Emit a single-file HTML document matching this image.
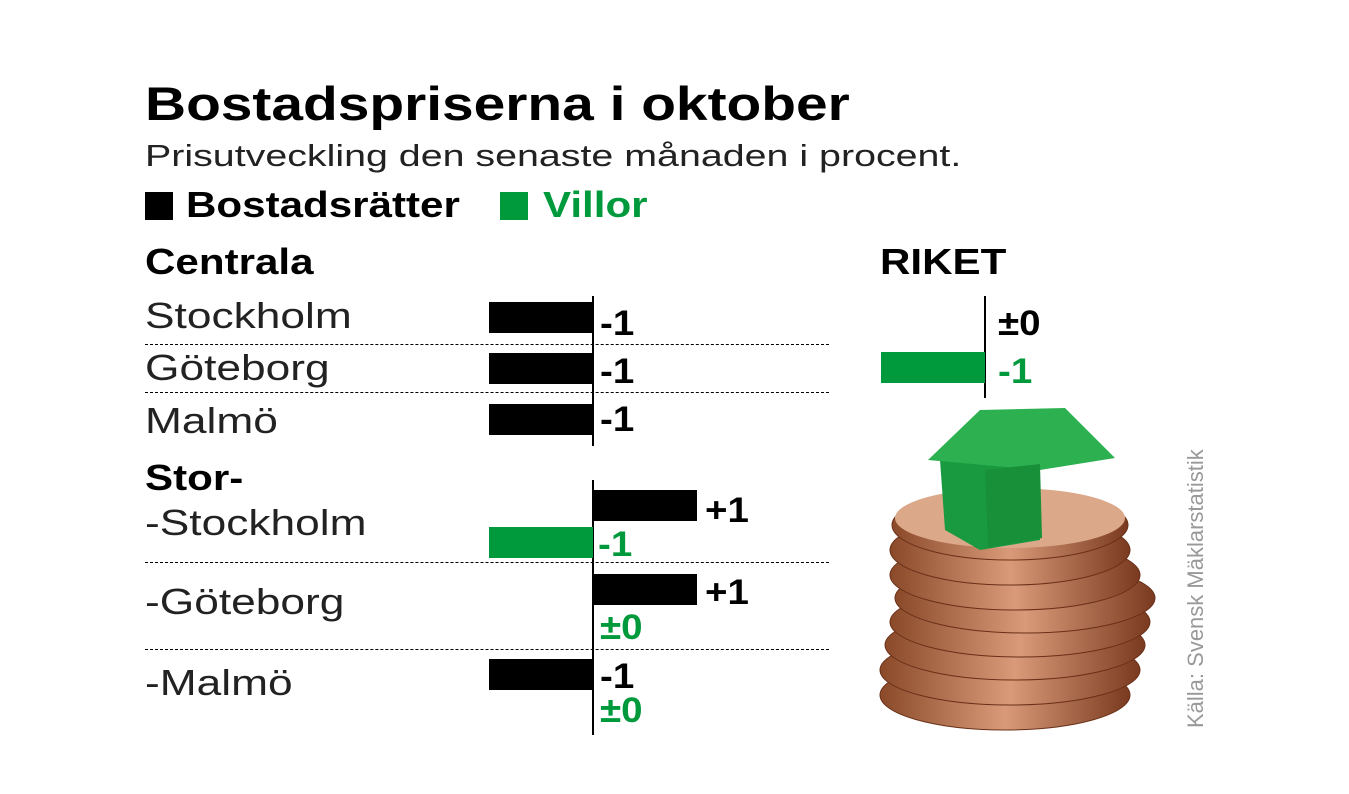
<!DOCTYPE html>
<html><head><meta charset="utf-8"><style>
body{margin:0;width:1349px;height:794px;background:#fff;position:relative;overflow:hidden;font-family:"Liberation Sans",sans-serif}
.t{position:absolute;white-space:nowrap;line-height:1;transform-origin:0 0}
.l{transform:scaleX(1.23)}
.b{position:absolute;background:#000}
.g{background:#009a3d}
.d{position:absolute;height:0;border-top:1.5px dashed #000;left:145px;width:684px}
.v{position:absolute;width:2px;background:#000}
.n{font-weight:bold;font-size:35px;transform:scaleX(1.1)}
.gr{color:#009a3d}
</style></head><body>
<div class="t" style="left:145px;top:80px;font-size:47px;font-weight:bold;transform:scaleX(1.21)">Bostadspriserna i oktober</div>
<div class="t" style="left:145px;top:140px;font-size:31px;color:#222;transform:scaleX(1.27)">Prisutveckling den senaste månaden i procent.</div>
<div class="b" style="left:145px;top:192px;width:28px;height:28px"></div>
<div class="t" style="left:186px;top:187px;font-size:36px;font-weight:bold;transform:scaleX(1.17)">Bostadsrätter</div>
<div class="b g" style="left:500px;top:192px;width:28px;height:28px"></div>
<div class="t gr" style="left:543px;top:187px;font-size:36px;font-weight:bold;transform:scaleX(1.17)">Villor</div>
<div class="t" style="left:145px;top:244px;font-size:36px;font-weight:bold;transform:scaleX(1.17)">Centrala</div>
<div class="t l" style="left:145px;top:298px;font-size:36px;color:#222">Stockholm</div>
<div class="t l" style="left:145px;top:350px;font-size:36px;color:#222">Göteborg</div>
<div class="t l" style="left:145px;top:403px;font-size:36px;color:#222">Malmö</div>
<div class="t" style="left:145px;top:460px;font-size:36px;font-weight:bold;transform:scaleX(1.17)">Stor-</div>
<div class="t l" style="left:145px;top:505px;font-size:36px;color:#222">-Stockholm</div>
<div class="t l" style="left:145px;top:584px;font-size:36px;color:#222">-Göteborg</div>
<div class="t l" style="left:145px;top:665px;font-size:36px;color:#222">-Malmö</div>
<div class="d" style="top:344px"></div><div class="d" style="top:392px"></div>
<div class="d" style="top:562px"></div><div class="d" style="top:649px"></div>
<div class="v" style="left:592px;top:296px;height:150px"></div>
<div class="v" style="left:592px;top:480px;height:255px"></div>
<div class="b" style="left:489px;top:302px;width:104px;height:31px"></div>
<div class="b" style="left:489px;top:353px;width:104px;height:31px"></div>
<div class="b" style="left:489px;top:404px;width:104px;height:31px"></div>
<div class="b" style="left:593px;top:490px;width:104px;height:31px"></div>
<div class="b g" style="left:489px;top:527px;width:104px;height:31px"></div>
<div class="b" style="left:593px;top:574px;width:104px;height:31px"></div>
<div class="b" style="left:489px;top:659px;width:104px;height:31px"></div>
<div class="t n" style="left:600px;top:306px">-1</div>
<div class="t n" style="left:600px;top:354px">-1</div>
<div class="t n" style="left:600px;top:402px">-1</div>
<div class="t n" style="left:705px;top:493px">+1</div>
<div class="t n gr" style="left:598px;top:527px">-1</div>
<div class="t n" style="left:705px;top:575px">+1</div>
<div class="t n gr" style="left:600px;top:610px">±0</div>
<div class="t n" style="left:600px;top:659px">-1</div>
<div class="t n gr" style="left:600px;top:693px">±0</div>
<div class="t" style="left:880px;top:244px;font-size:36px;font-weight:bold;transform:scaleX(1.17)">RIKET</div>
<div class="v" style="left:984px;top:296px;height:102px"></div>
<div class="b g" style="left:881px;top:352px;width:104px;height:31px"></div>
<div class="t n" style="left:998px;top:306px">±0</div>
<div class="t n gr" style="left:998px;top:354px">-1</div>
<div class="t" style="left:1185px;top:728px;font-size:22px;color:#999;transform:rotate(-90deg);transform-origin:0 0">Källa: Svensk Mäklarstatistik</div>
<svg style="position:absolute;left:860px;top:400px" width="310" height="345">
<defs><linearGradient id="c" x1="0" x2="1"><stop offset="0" stop-color="#8a4a2a"/><stop offset=".5" stop-color="#d89a78"/><stop offset="1" stop-color="#7a3a20"/></linearGradient></defs>
<g fill="url(#c)" stroke="#6a3018" stroke-width="1">
<ellipse cx="145" cy="295" rx="125" ry="35"/>
<ellipse cx="150" cy="270" rx="130" ry="35"/>
<ellipse cx="155" cy="245" rx="130" ry="35"/>
<ellipse cx="160" cy="222" rx="130" ry="35"/>
<ellipse cx="165" cy="198" rx="130" ry="35"/>
<ellipse cx="155" cy="175" rx="125" ry="35"/>
<ellipse cx="150" cy="150" rx="120" ry="35"/>
<ellipse cx="150" cy="125" rx="118" ry="35"/>
</g>
<ellipse cx="150" cy="118" rx="115" ry="30" fill="#dba88a"/>
<polygon points="80,60 175,60 180,140 120,150 85,130" fill="#1a9a40"/>
<polygon points="68,60 120,10 205,8 255,58 180,70" fill="#2cb050"/>
<polygon points="125,70 180,64 182,138 128,148" fill="#18903a"/>
</svg>
</body></html>
